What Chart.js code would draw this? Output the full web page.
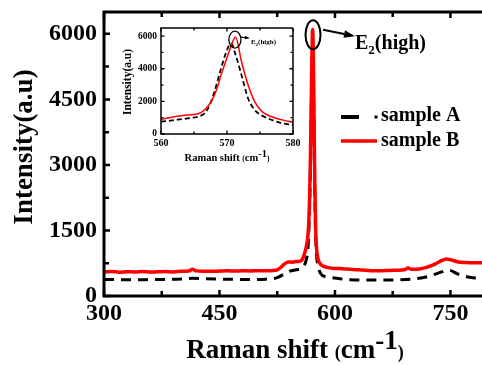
<!DOCTYPE html>
<html>
<head>
<meta charset="utf-8">
<script src="https://cdn.jsdelivr.net/npm/chart.js@4.4.1/dist/chart.umd.min.js"></script>
<style>
  html, body { margin: 0; padding: 0; background: #fff; }
  #wrap { position: relative; width: 482px; height: 365px; overflow: hidden; }
  #main { position: absolute; left: 0; top: 0; }
  #inset { position: absolute; left: 115px; top: 22px; background: #fff; }
</style>
</head>
<body>
<div id="wrap">
  <canvas id="main" width="482" height="365"></canvas>
  <canvas id="inset" width="185" height="145"></canvas>
</div>
<script>
// --- main plot data ---
const shiftA = [300, 320, 340, 360, 380, 400, 415, 430, 450, 470, 490, 510, 525, 540, 550, 558, 563, 565, 566, 567, 568, 569, 570, 571, 572, 573, 574, 575, 576, 578, 580, 583, 590, 600, 620, 640, 660, 680, 700, 720, 735, 748, 760, 775, 791];
const intensityA = [380, 375, 372, 376, 380, 390, 405, 395, 385, 380, 376, 385, 420, 560, 600, 650, 850, 1100, 1450, 2000, 2800, 3950, 5100, 5700, 5000, 3500, 2150, 1350, 950, 700, 560, 480, 440, 410, 370, 365, 365, 370, 385, 440, 530, 590, 500, 430, 400];

const shiftB = [300, 310, 320, 330, 340, 350, 360, 370, 380, 390, 400, 410, 415, 420, 430, 440, 450, 460, 470, 480, 490, 500, 510, 520, 525, 530, 535, 540, 545, 550, 555, 558, 561, 563, 565, 566, 567, 568, 569, 570, 571, 572, 573, 574, 575, 576, 578, 580, 583, 587, 591, 600, 610, 620, 630, 640, 650, 660, 670, 680, 690, 695, 700, 710, 720, 730, 740, 745, 750, 760, 770, 780, 791];
const intensityB = [550, 560, 545, 556, 550, 561, 548, 555, 560, 552, 565, 570, 610, 575, 568, 565, 570, 576, 570, 578, 574, 580, 577, 585, 600, 660, 740, 780, 775, 790, 800, 850, 1000, 1150, 1400, 1700, 2200, 3000, 4200, 5400, 6100, 5400, 3800, 2400, 1500, 1100, 850, 760, 700, 670, 650, 630, 625, 610, 600, 590, 580, 578, 585, 590, 600, 640, 610, 620, 660, 730, 820, 845, 830, 780, 765, 760, 760];

const mainXTicks = [300, 450, 600, 750];
const mainXMinor = [375, 525, 675];
const mainYTicks = [0, 1500, 3000, 4500, 6000];
const mainYMinor = [750, 2250, 3750, 5250];

// --- inset data (zoom on the E2(high) peak) ---
const insetShiftA = [560, 562, 564, 566.6, 567.4, 568.1, 569.1, 569.9, 570.6, 571.4, 572.2, 573.2, 574.2, 575.2, 576.2, 578, 580];
const insetIntensityA = [755, 850, 960, 1265, 1800, 2590, 4020, 5040, 5550, 4730, 3610, 2180, 1470, 1150, 960, 700, 550];

const insetShiftB = [560, 562, 564, 566.1, 567.6, 568.4, 569.1, 569.8, 570.4, 571.3, 572.2, 573.2, 574.2, 575.2, 576.2, 577.2, 578.5, 580];
const insetIntensityB = [900, 1060, 1160, 1330, 1980, 2700, 3610, 4450, 5140, 5950, 4430, 3000, 1980, 1410, 1150, 1000, 850, 720];

const insetXTicks = [560, 570, 580];
const insetXMinor = [565, 575];
const insetYTicks = [0, 2000, 4000, 6000];
const insetYMinor = [1000, 3000, 5000];

const SERIF = '"Liberation Serif", "Times New Roman", serif';
const RED = '#ff0000';

const pts = (xs, ys) => xs.map((v, i) => ({ x: v, y: ys[i] }));
const plain = v => String(v);

// --- drawing helpers ---
function richText(ctx, parts, cx, baseline) {
  let total = 0;
  parts.forEach(p => {
    ctx.font = `bold ${p.size}px ${SERIF}`;
    p.w = ctx.measureText(p.t).width;
    total += p.w;
  });
  let xx = cx - total / 2;
  ctx.textAlign = 'left';
  ctx.textBaseline = 'alphabetic';
  parts.forEach(p => {
    ctx.font = `bold ${p.size}px ${SERIF}`;
    ctx.fillText(p.t, xx, baseline + (p.dy || 0));
    xx += p.w;
  });
}

function arrow(ctx, x0, y0, x1, y1, width, head) {
  const ang = Math.atan2(y1 - y0, x1 - x0);
  ctx.lineWidth = width;
  ctx.beginPath();
  ctx.moveTo(x0, y0);
  ctx.lineTo(x1 - Math.cos(ang) * head, y1 - Math.sin(ang) * head);
  ctx.stroke();
  ctx.beginPath();
  ctx.moveTo(x1, y1);
  ctx.lineTo(x1 - Math.cos(ang) * head - Math.sin(ang) * head * 0.35, y1 - Math.sin(ang) * head + Math.cos(ang) * head * 0.35);
  ctx.lineTo(x1 - Math.cos(ang) * head + Math.sin(ang) * head * 0.35, y1 - Math.sin(ang) * head - Math.cos(ang) * head * 0.35);
  ctx.closePath();
  ctx.fill();
}

// frame with inward ticks
function drawFrame(chart, f) {
  const { ctx, chartArea: a, scales: { x, y } } = chart;
  ctx.save();
  ctx.strokeStyle = '#000';
  ctx.lineWidth = f.frame;
  ctx.beginPath();
  ctx.moveTo(a.right + (f.right ? 0 : 2), a.top);
  ctx.lineTo(a.left, a.top);
  ctx.lineTo(a.left, a.bottom);
  ctx.lineTo(a.right + (f.right ? 0 : 2), a.bottom);
  if (f.right) { ctx.lineTo(a.right, a.top); }
  ctx.stroke();

  ctx.lineWidth = f.tickW;
  ctx.beginPath();
  const xt = (vals, len) => vals.forEach(v => {
    const p = x.getPixelForValue(v);
    ctx.moveTo(p, a.bottom); ctx.lineTo(p, a.bottom - len);
    ctx.moveTo(p, a.top); ctx.lineTo(p, a.top + len);
  });
  const yt = (vals, len) => vals.forEach(v => {
    const p = y.getPixelForValue(v);
    ctx.moveTo(a.left, p); ctx.lineTo(a.left + len, p);
    if (f.right) { ctx.moveTo(a.right, p); ctx.lineTo(a.right - len, p); }
  });
  xt(f.xMajor, f.major); xt(f.xMinor, f.minor);
  yt(f.yMajor, f.major); yt(f.yMinor, f.minor);
  ctx.stroke();
  ctx.restore();
}

const mainDecor = {
  id: 'mainDecor',
  afterDraw(chart) {
    const { ctx, scales: { x, y } } = chart;
    drawFrame(chart, { frame: 3, tickW: 2.5, major: 6, minor: 5, right: false,
      xMajor: mainXTicks, xMinor: mainXMinor, yMajor: mainYTicks, yMinor: mainYMinor });

    ctx.save();
    ctx.fillStyle = '#000';
    ctx.strokeStyle = '#000';

    // axis titles
    ctx.save();
    ctx.translate(25, 147);
    ctx.rotate(-Math.PI / 2);
    ctx.font = `bold 27px ${SERIF}`;
    ctx.textAlign = 'center';
    ctx.textBaseline = 'middle';
    ctx.fillText('Intensity(a.u)', 0, 0);
    ctx.restore();

    richText(ctx, [
      { t: 'Raman shift ', size: 27 },
      { t: '(', size: 18 },
      { t: 'cm', size: 27 },
      { t: '-1', size: 27, dy: -9 },
      { t: ')', size: 18 }
    ], 295, 358);

    // E2(high) marker
    const cx = x.getPixelForValue(571.5), cy = y.getPixelForValue(5980);
    ctx.lineWidth = 2;
    ctx.beginPath();
    ctx.ellipse(cx, cy, 7.5, 14.5, 0, 0, Math.PI * 2);
    ctx.stroke();
    arrow(ctx, cx + 10, cy - 5, cx + 42, cy + 1.5, 2, 11);
    ctx.textAlign = 'left';
    ctx.textBaseline = 'alphabetic';
    ctx.font = `bold 20px ${SERIF}`;
    ctx.fillText('E', cx + 42, cy + 14.5);
    const ew = ctx.measureText('E').width;
    ctx.font = `bold 13px ${SERIF}`;
    ctx.fillText('2', cx + 42 + ew, cy + 19.5);
    const sw = ctx.measureText('2').width;
    ctx.font = `bold 20px ${SERIF}`;
    ctx.fillText('(high)', cx + 42 + ew + sw, cy + 14.5);

    // legend
    ctx.lineWidth = 4;
    ctx.beginPath();
    ctx.moveTo(341, 117); ctx.lineTo(359, 117);
    ctx.stroke();
    ctx.fillRect(374.5, 115.5, 3, 3);
    ctx.strokeStyle = RED;
    ctx.lineWidth = 3.5;
    ctx.beginPath();
    ctx.moveTo(341, 141); ctx.lineTo(377, 141);
    ctx.stroke();
    ctx.font = `bold 20px ${SERIF}`;
    ctx.fillText('sample A', 381, 121);
    ctx.fillText('sample B', 381, 146);
    ctx.restore();
  }
};

const insetDecor = {
  id: 'insetDecor',
  beforeDraw(chart) {
    const { ctx } = chart;
    ctx.save();
    ctx.fillStyle = '#fff';
    ctx.fillRect(0, 0, chart.width, chart.height);
    ctx.restore();
  },
  afterDraw(chart) {
    const { ctx, scales: { x, y } } = chart;
    drawFrame(chart, { frame: 1.5, tickW: 1.3, major: 3.5, minor: 2.5, right: true,
      xMajor: insetXTicks, xMinor: insetXMinor, yMajor: insetYTicks, yMinor: insetYMinor });

    ctx.save();
    ctx.fillStyle = '#000';
    ctx.strokeStyle = '#000';

    ctx.save();
    ctx.translate(13, 60);
    ctx.rotate(-Math.PI / 2);
    ctx.font = `bold 11.5px ${SERIF}`;
    ctx.textAlign = 'center';
    ctx.textBaseline = 'middle';
    ctx.fillText('Intensity(a.u)', 0, 0);
    ctx.restore();

    richText(ctx, [
      { t: 'Raman shift ', size: 10.5 },
      { t: '(', size: 7.5 },
      { t: 'cm', size: 10.5 },
      { t: '-1', size: 10.5, dy: -4 },
      { t: ')', size: 7.5 }
    ], 112, 139);

    const cx = x.getPixelForValue(571.2), cy = y.getPixelForValue(5785);
    ctx.lineWidth = 1.3;
    ctx.beginPath();
    ctx.ellipse(cx, cy, 6, 8.5, 0, 0, Math.PI * 2);
    ctx.stroke();
    arrow(ctx, cx + 6, cy - 2.5, cx + 15, cy - 1.5, 1.2, 5);
    ctx.textAlign = 'left';
    ctx.textBaseline = 'alphabetic';
    ctx.font = `bold 7px ${SERIF}`;
    ctx.fillText('E', cx + 16, cy + 4.5);
    const ew = ctx.measureText('E').width;
    ctx.font = `bold 5px ${SERIF}`;
    ctx.fillText('2', cx + 16 + ew, cy + 6);
    const sw = ctx.measureText('2').width;
    ctx.font = `bold 7px ${SERIF}`;
    ctx.fillText('(high)', cx + 16 + ew + sw, cy + 4.5);
    ctx.restore();
  }
};

function fixedAxis(size, horizontal) {
  return s => {
    if (horizontal) { s.height = size; s.paddingLeft = 0; s.paddingRight = 0; }
    else { s.width = size; s.paddingTop = 0; s.paddingBottom = 0; }
  };
}

// --- main chart ---
new Chart(document.getElementById('main'), {
  type: 'line',
  data: {
    datasets: [
      { label: 'sample B', data: pts(shiftB, intensityB), borderColor: RED, borderWidth: 3.5,
        pointRadius: 0, order: 0, cubicInterpolationMode: 'monotone' },
      { label: 'sample A', data: pts(shiftA, intensityA), borderColor: '#000', borderWidth: 3,
        borderDash: [10, 7], pointRadius: 0, order: 1, cubicInterpolationMode: 'monotone' }
    ]
  },
  options: {
    responsive: false,
    animation: false,
    devicePixelRatio: 1,
    layout: { padding: { top: 12, right: 0, bottom: 0, left: 0 } },
    plugins: { legend: { display: false }, tooltip: { enabled: false } },
    scales: {
      x: {
        type: 'linear', min: 300, max: 791,
        grid: { display: false, drawTicks: false }, border: { display: false },
        afterBuildTicks: s => { s.ticks = mainXTicks.map(v => ({ value: v })); },
        afterFit: fixedAxis(69, true),
        ticks: { color: '#000', padding: 3, maxRotation: 0, autoSkip: false, callback: plain,
          font: { family: SERIF, size: 24, weight: 'bold' } }
      },
      y: {
        min: 0, max: 6500,
        grid: { display: false, drawTicks: false }, border: { display: false },
        afterBuildTicks: s => { s.ticks = mainYTicks.map(v => ({ value: v })); },
        afterFit: fixedAxis(104, false),
        ticks: { color: '#000', padding: 7, autoSkip: false, callback: plain,
          font: { family: SERIF, size: 24, weight: 'bold' } }
      }
    }
  },
  plugins: [mainDecor]
});

// --- inset chart ---
new Chart(document.getElementById('inset'), {
  type: 'line',
  data: {
    datasets: [
      { label: 'sample B', data: pts(insetShiftB, insetIntensityB), borderColor: RED, borderWidth: 1.5,
        pointRadius: 0, order: 0, cubicInterpolationMode: 'monotone' },
      { label: 'sample A', data: pts(insetShiftA, insetIntensityA), borderColor: '#000', borderWidth: 1.8,
        borderDash: [5, 3], pointRadius: 0, order: 1, cubicInterpolationMode: 'monotone' }
    ]
  },
  options: {
    responsive: false,
    animation: false,
    devicePixelRatio: 1,
    layout: { padding: { top: 6, right: 7, bottom: 0, left: 0 } },
    plugins: { legend: { display: false }, tooltip: { enabled: false } },
    scales: {
      x: {
        type: 'linear', min: 560, max: 580,
        grid: { display: false, drawTicks: false }, border: { display: false },
        afterBuildTicks: s => { s.ticks = insetXTicks.map(v => ({ value: v })); },
        afterFit: fixedAxis(33, true),
        ticks: { color: '#000', padding: 3, maxRotation: 0, autoSkip: false, callback: plain,
          font: { family: SERIF, size: 10, weight: 'bold' } }
      },
      y: {
        min: 0, max: 6500,
        grid: { display: false, drawTicks: false }, border: { display: false },
        afterBuildTicks: s => { s.ticks = insetYTicks.map(v => ({ value: v })); },
        afterFit: fixedAxis(46, false),
        ticks: { color: '#000', padding: 4, autoSkip: false, callback: plain,
          font: { family: SERIF, size: 9.5, weight: 'bold' } }
      }
    }
  },
  plugins: [insetDecor]
});
</script>
</body>
</html>
